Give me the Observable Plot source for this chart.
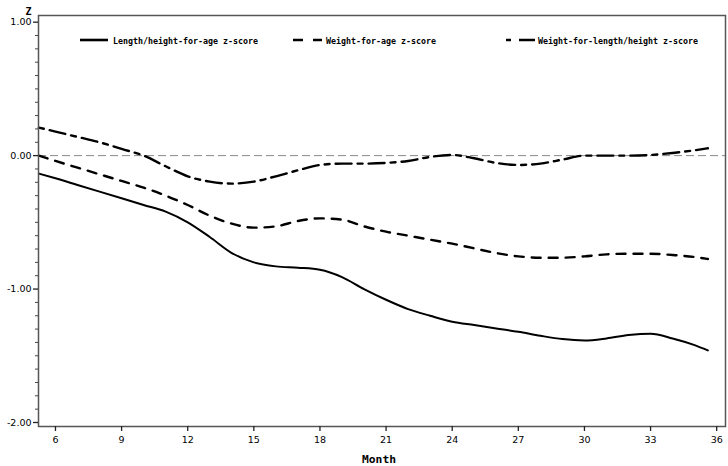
<!DOCTYPE html>
<html><head><meta charset="utf-8">
<script src="https://cdn.jsdelivr.net/npm/d3@7"></script>
<script src="https://cdn.jsdelivr.net/npm/@observablehq/plot@0.6"></script>
<style>body{margin:0;background:#fff}</style>
</head><body><div id="chart"></div>
<script>
const months = [5.25, 6, 7, 8, 9, 10, 11, 12, 13, 14, 15, 16, 17, 18, 19, 20, 21, 22, 23, 24, 25, 26, 27, 28, 29, 30, 31, 32, 33, 34, 35, 35.6];
const lengthForAge = [-0.135, -0.17, -0.22, -0.27, -0.32, -0.37, -0.42, -0.50, -0.61, -0.73, -0.80, -0.83, -0.84, -0.855, -0.91, -1.00, -1.08, -1.15, -1.20, -1.245, -1.27, -1.295, -1.32, -1.35, -1.375, -1.385, -1.37, -1.345, -1.335, -1.37, -1.42, -1.46];
const weightForAge = [0.0, -0.04, -0.09, -0.14, -0.19, -0.24, -0.30, -0.37, -0.45, -0.51, -0.54, -0.53, -0.49, -0.47, -0.48, -0.53, -0.57, -0.60, -0.63, -0.66, -0.695, -0.73, -0.755, -0.765, -0.765, -0.755, -0.74, -0.735, -0.735, -0.745, -0.76, -0.775];
const weightForLength = [0.21, 0.18, 0.14, 0.10, 0.05, 0.0, -0.08, -0.155, -0.195, -0.21, -0.195, -0.155, -0.11, -0.07, -0.06, -0.06, -0.055, -0.04, -0.01, 0.005, -0.02, -0.055, -0.07, -0.06, -0.03, 0.0, 0.0, 0.0, 0.005, 0.02, 0.04, 0.055];
const seriesNames = ["Length/height-for-age z-score", "Weight-for-age z-score", "Weight-for-length/height z-score"];
const xTicks = [6, 9, 12, 15, 18, 21, 24, 27, 30, 33, 36];
const yTicks = [-2, -1, 0, 1];
const yMinor = d3.range(-20, 11).filter(d => d % 10 !== 0).map(d => d / 10);

const seriesValues = [lengthForAge, weightForAge, weightForLength];
const dashes = [null, "9,8", "5,6,16,6"];
const lineMarks = seriesValues.map((vals, k) =>
  Plot.line(months.map((m, i) => ({m, v: vals[i]})), {
    x: "m", y: "v", curve: "monotone-x", stroke: "#000",
    strokeWidth: k === 0 ? 2 : 2.4, strokeDasharray: dashes[k]
  })
);

const chart = Plot.plot({
  width: 728, height: 466,
  marginLeft: 38, marginRight: 3, marginTop: 15, marginBottom: 40,
  x: {domain: [5.23, 36.4]},
  y: {domain: [-2.03, 1.05]},
  style: {fontFamily: "DejaVu Sans", fontSize: "9.5px", color: "#000", background: "#fff"},
  marks: [
    Plot.ruleY([0], {stroke: "#888", strokeDasharray: "8,4", strokeWidth: 1}),
    ...lineMarks,
    Plot.frame({stroke: "#555", strokeWidth: 1.5}),
    Plot.axisX({ticks: xTicks, tickSize: 5, tickPadding: 5, label: null, tickFormat: d => d, stroke: "#222", strokeWidth: 1.3}),
    Plot.axisY({ticks: yTicks, tickSize: 5, tickPadding: 2, label: null, tickFormat: d => d.toFixed(2), stroke: "#222", strokeWidth: 1.3}),
    Plot.axisY({ticks: yMinor, tickSize: 3, tickFormat: () => "", label: null, stroke: "#444"})
  ]
});
document.getElementById("chart").appendChild(chart);

const svg = d3.select(chart);
const lg = svg.append("g").attr("text-anchor", "start");
const legendItems = [
  {x0: 80, x1: 108, tx: 113},
  {x0: 293, x1: 322, tx: 326},
  {x0: 506, x1: 535, tx: 538}
];
const legendDash = [null, "10,10", "5,8,16,0"];
legendItems.forEach((it, k) => {
  lg.append("line").attr("x1", it.x0).attr("x2", it.x1).attr("y1", 40).attr("y2", 40)
    .attr("stroke", "#000").attr("stroke-width", 2.6)
    .attr("stroke-dasharray", legendDash[k]);
  lg.append("text").attr("x", it.tx).attr("y", 43.5).attr("text-anchor", "start")
    .attr("font-family", "DejaVu Sans Mono").attr("font-size", 9).attr("font-weight", "bold")
    .attr("textLength", seriesNames[k].length * 5).attr("lengthAdjust", "spacingAndGlyphs")
    .attr("fill", "#000").text(seriesNames[k]);
});
svg.append("text").attr("x", 28.5).attr("y", 15).attr("text-anchor", "middle")
  .attr("font-family", "DejaVu Sans Mono").attr("font-size", 10).attr("font-weight", "bold").text("Z");
svg.append("text").attr("x", 362).attr("y", 463).attr("text-anchor", "start")
  .attr("font-family", "DejaVu Sans Mono").attr("font-size", 11).attr("font-weight", "bold")
  .attr("textLength", 34).attr("lengthAdjust", "spacingAndGlyphs").text("Month");
</script>
</body></html>
